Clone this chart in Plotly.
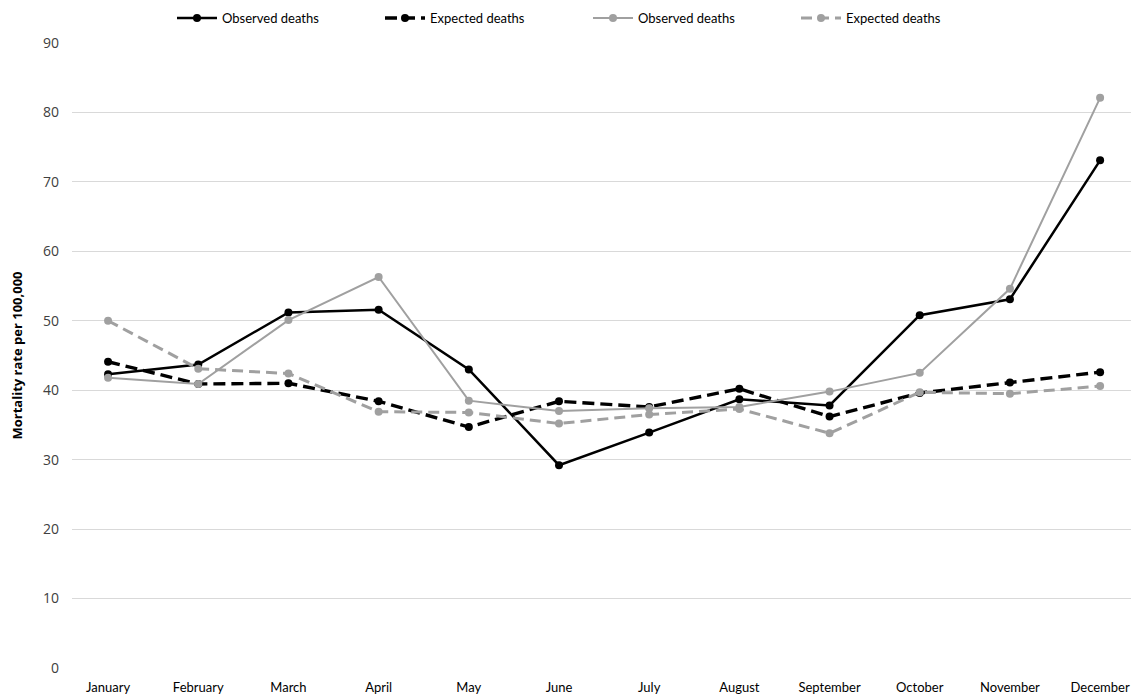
import plotly.graph_objects as go

months = ["January", "February", "March", "April", "May", "June", "July",
          "August", "September", "October", "November", "December"]

obs_black = [42.3, 43.7, 51.2, 51.6, 43.0, 29.2, 33.9, 38.7, 37.8, 50.8, 53.1, 73.1]
exp_black = [44.1, 40.9, 41.0, 38.4, 34.7, 38.4, 37.6, 40.2, 36.2, 39.6, 41.1, 42.6]
obs_gray = [41.8, 40.9, 50.1, 56.3, 38.5, 37.0, 37.4, 37.6, 39.8, 42.5, 54.6, 82.1]
exp_gray = [50.0, 43.1, 42.4, 36.9, 36.8, 35.2, 36.5, 37.3, 33.8, 39.7, 39.5, 40.6]

series = [
    ("Observed deaths", obs_black, "#000000", "solid", 2.5),
    ("Expected deaths", exp_black, "#000000", "12px,6px", 3.4),
    ("Observed deaths", obs_gray, "#a0a0a0", "solid", 2),
    ("Expected deaths", exp_gray, "#a0a0a0", "11px,6px", 3),
]

fig = go.Figure()
for name, vals, color, dash, w in series:
    fig.add_trace(go.Scatter(
        x=months, y=vals, name=name, mode="lines+markers",
        line=dict(color=color, width=w, dash=dash),
        marker=dict(color=color, size=8, symbol="circle"),
    ))

fig.update_layout(
    width=1139, height=697,
    margin=dict(l=64, r=0, t=35, b=37, autoexpand=False),
    plot_bgcolor="white", paper_bgcolor="white",
    font=dict(family="Lato", size=13, color="#000000"),
    showlegend=True,
    legend=dict(orientation="h", x=0.48, xanchor="center", y=1.04, yanchor="middle",
                font=dict(family="Lato", size=13, color="#000000"),
                itemwidth=40, entrywidth=153, entrywidthmode="pixels",
                traceorder="normal"),
    xaxis=dict(type="category", range=[-0.4, 11.52], showgrid=False, automargin=False,
               showline=False, ticks="", ticklabelstandoff=10,
               tickfont=dict(family="Lato", size=13, color="#000000")),
    yaxis=dict(range=[0, 90], dtick=10, showgrid=True, gridcolor="#d9d9d9", gridwidth=1,
               zeroline=False, showline=False, ticks="", automargin=False,
               ticklabelstandoff=12,
               tickfont=dict(family="Open Sans", size=14, color="#404040"),
               title=dict(text="<b>Mortality rate per 100,000</b>",
                          font=dict(family="Open Sans", size=13, color="#000000"), standoff=17)),
)

fig.write_html("out.html")
